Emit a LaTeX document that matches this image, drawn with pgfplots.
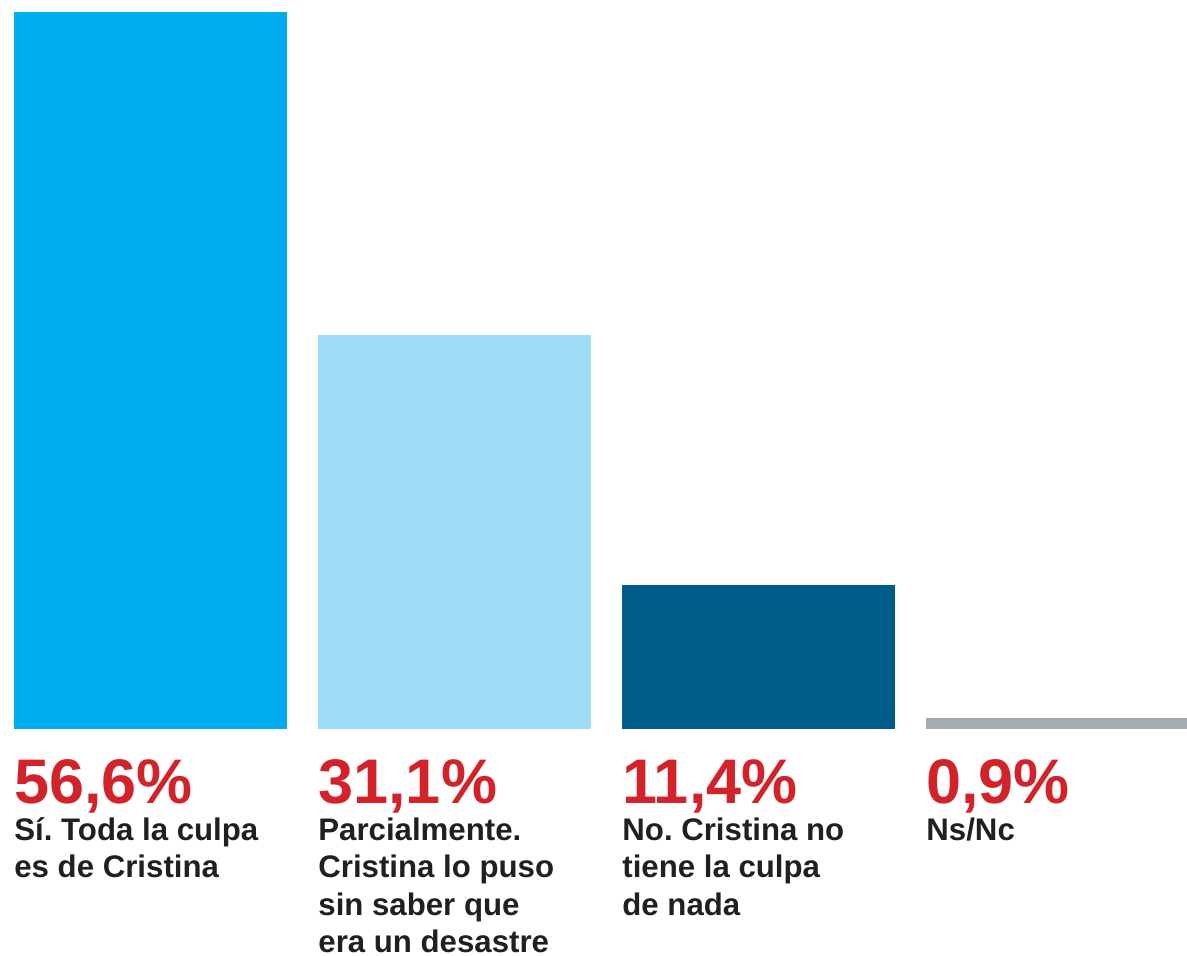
\documentclass[border=0pt]{standalone}
\usepackage{pgfplots}
\pgfplotsset{compat=1.18}
\usepackage{fontspec}
\setmainfont{Liberation Sans}
\frenchspacing
\definecolor{barA}{HTML}{00AEEF}
\definecolor{barB}{HTML}{9EDCF7}
\definecolor{barC}{HTML}{005C8A}
\definecolor{barD}{HTML}{A2ACB5}
\definecolor{numred}{HTML}{D2232A}
\definecolor{txt}{HTML}{231F20}
\newcommand{\pct}[1]{{\fontsize{31.5pt}{31.5pt}\selectfont\bfseries\color{numred}#1}}
\newcommand{\lbl}[1]{{\fontsize{15.6pt}{18.75pt}\selectfont\bfseries\color{txt}\vtop{#1}}}
\begin{document}
\begin{tikzpicture}
\useasboundingbox (0,0) rectangle (593.5pt,477.5pt);
\begin{axis}[
  at={(7pt,113pt)}, anchor=south west,
  scale only axis, width=586.5pt, height=358.5pt,
  hide axis, clip=false,
  xmin=-0.449, xmax=3.4095, ymin=0, ymax=56.6,
  ybar, bar width=136.5pt, bar shift=0pt,
]
\addplot[fill=barA, draw=none] coordinates {(0,56.6)};
\addplot[fill=barB, draw=none] coordinates {(1,31.1)};
\addplot[fill=barC, draw=none] coordinates {(2,11.4)};
\addplot[fill=barD, draw=none] coordinates {(3,0.9)};
% values under each bar
\node[anchor=base west, inner sep=0pt, yshift=-37pt] at (axis cs:-0.449,0) {\pct{56,6\%}};
\node[anchor=base west, inner sep=0pt, yshift=-37pt] at (axis cs:0.551,0) {\pct{31,1\%}};
\node[anchor=base west, inner sep=0pt, yshift=-37pt] at (axis cs:1.551,0) {\pct{11,4\%}};
\node[anchor=base west, inner sep=0pt, yshift=-37pt] at (axis cs:2.551,0) {\pct{0,9\%}};
% captions
\node[anchor=base west, inner sep=0pt, yshift=-55.5pt] at (axis cs:-0.449,0)
  {\lbl{\hbox{Sí. Toda la culpa}\hbox{es de Cristina}}};
\node[anchor=base west, inner sep=0pt, yshift=-55.5pt] at (axis cs:0.551,0)
  {\lbl{\hbox{Parcialmente.}\hbox{Cristina lo puso}\hbox{sin saber que}\hbox{era un desastre}}};
\node[anchor=base west, inner sep=0pt, yshift=-55.5pt] at (axis cs:1.551,0)
  {\lbl{\hbox{No. Cristina no}\hbox{tiene la culpa}\hbox{de nada}}};
\node[anchor=base west, inner sep=0pt, yshift=-55.5pt] at (axis cs:2.551,0)
  {\lbl{\hbox{Ns/Nc}}};
\end{axis}
\end{tikzpicture}
\end{document}
